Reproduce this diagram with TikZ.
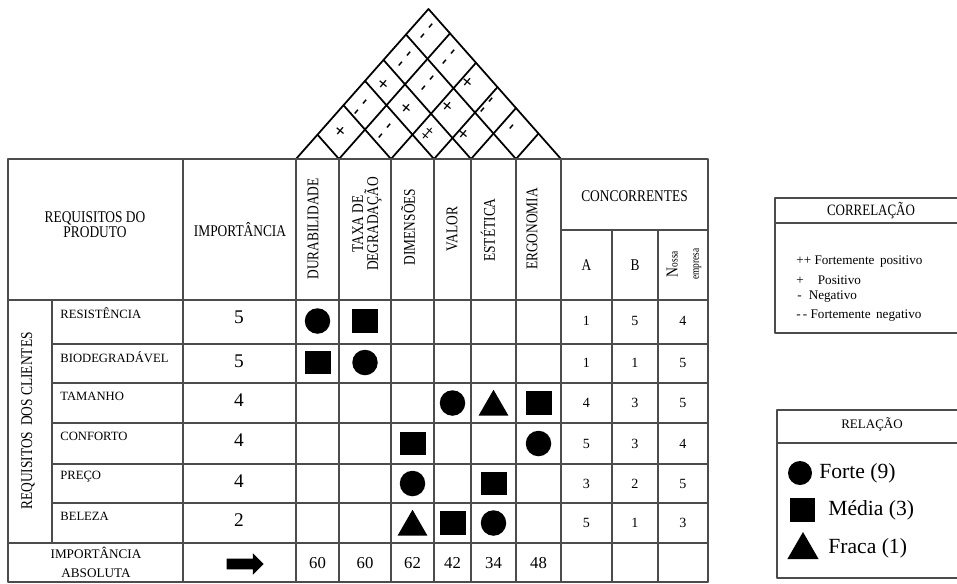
\documentclass[tikz,border=0pt]{standalone}
\usepackage{fontspec}
\setmainfont{Liberation Serif}
\newfontfamily\condfont{Liberation Serif}[FakeStretch=0.82]
\usetikzlibrary{shapes.geometric,shapes.arrows,calc}

\tikzset{
  grade/.style={draw=black!70, line width=0.75pt},
  telhado/.style={line width=1pt, line cap=round},
  forte/.style={circle, fill, inner sep=0pt, minimum size=0.51cm},
  media/.style={rectangle, fill, inner sep=0pt, minimum width=0.52cm, minimum height=0.47cm},
  fraca/.style={regular polygon, regular polygon sides=3, fill, inner sep=0pt, minimum size=0.69cm, yshift=-0.08cm},
  cab/.style={font=\condfont\fontsize{9.3}{8.6}\selectfont, align=center, inner sep=0pt},
  req/.style={font=\fontsize{7.2}{9}\selectfont, anchor=west, inner sep=0pt},
  imp/.style={font=\fontsize{11}{13}\selectfont, inner sep=0pt},
  num/.style={font=\fontsize{8}{10}\selectfont, inner sep=0pt},
  tot/.style={font=\fontsize{9.5}{11}\selectfont, inner sep=0pt},
  corr/.style={font=\bfseries\fontsize{11}{12}\selectfont, inner sep=0pt, rotate=50},
  leg/.style={font=\fontsize{7.5}{9}\selectfont, anchor=west, inner sep=0pt},
  legrel/.style={font=\fontsize{12.3}{14}\selectfont, anchor=west, inner sep=0pt}
}
\newcommand{\mm}{-\hspace{3.5pt}-}
\newcommand{\pp}{{\fontsize{8.5}{9}\selectfont+\kern-1.2pt+}}

\begin{document}
\begin{tikzpicture}[x=0.02cm, y=-0.02cm, line join=round]
\useasboundingbox (0,0) rectangle (957,583);
% centros das colunas e das linhas
\foreach \x\t in {317.5/c1,365/c2,412.5/c3,452.5/c4,493.5/c5,538.5/c6,586.5/ca,635/cb,683/cc}
  \coordinate (\t) at (\x,0);
\foreach \y\t in {321/r1,362.5/r2,403/r3,443.5/r4,483.5/r5,523/r6}
  \coordinate (\t) at (0,\y);

% telhado
\foreach \p in {296,339,391,434,471,516,561}{
  \draw[telhado] (\p,159) -- ({(\p+561)/2},{159-1.132*(561-\p)/2});
  \draw[telhado] (\p,159) -- ({(296+\p)/2},{159-1.132*(\p-296)/2});
}
\foreach \x/\y/\s [count=\n] in {341/132/+, 386/132/\mm, 428/134/\pp, 464/135/+, 513/128/-,
    362/108/\mm, 407/109/+, 448/107/+, 488/106/\mm, 384/85/+, 429/84/\mm, 468/83/+,
    406/60/\mm, 450/58/\mm, 428/32/\mm}
  \node[corr] (t\n) at (\x,\y) {\s};

% grade da matriz
\draw[grade] (8,159) rectangle (708,582);
\foreach \y in {300,543} \draw[grade] (8,\y) -- (708,\y);
\foreach \y in {344,383,423,464,503} \draw[grade] (52,\y) -- (708,\y);
\draw[grade] (561,230) -- (708,230);
\draw[grade] (52,300) -- (52,543);
\foreach \x in {183,296,339,391,434,471,516,561} \draw[grade] (\x,159) -- (\x,582);
\foreach \x in {612,658} \draw[grade] (\x,230) -- (\x,582);

% cabecalho
\node[cab] (reqprod) at (95,225) {REQUISITOS DO\\PRODUTO};
\node[cab] (impcab) at (240,230) {IMPORTÂNCIA};
\node[cab, rotate=90] (h1) at (313,229) {DURABILIDADE};
\node[cab, rotate=90] (h2) at (367,224) {TAXA DE\\DEGRADAÇÃO};
\node[cab, rotate=90] (h3) at (408,227) {DIMENSÕES};
\node[cab, rotate=90] (h4) at (452,229) {VALOR};
\node[cab, rotate=90] (h5) at (488,230) {ESTÉTICA};
\node[cab, rotate=90] (h6) at (532,229) {ERGONOMIA};
\node[cab] (conc) at (634.5,196) {CONCORRENTES};
\node[cab] (concA) at (ca |- 0,265) {A};
\node[cab] (concB) at (cb |- 0,265) {B};
\node[font=\condfont\fontsize{6.5}{12}\selectfont, align=center, inner sep=0pt, rotate=90] (concC) at (684,264)
  {{\fontsize{9.5}{12}\selectfont N}ossa\\empresa};
\node[cab, rotate=90] (reqcli) at (28,421) {REQUISITOS\, DOS CLIENTES};

% requisitos dos clientes
\foreach \t/\lab/\imp/\a/\b/\c [count=\k] in {300/RESISTÊNCIA/5/1/5/4, 344/BIODEGRADÁVEL/5/1/1/5,
    383/TAMANHO/4/4/3/5, 423/CONFORTO/4/5/3/4, 464/PREÇO/4/3/2/5, 503/BELEZA/2/5/1/3}{
  \node[req] (l\k) at (60,\t+13) {\lab};
  \node[imp] (i\k) at (239,\t+17) {\imp};
  \node[num] (a\k) at (ca |- r\k) {\a};
  \node[num] (b\k) at (cb |- r\k) {\b};
  \node[num] (n\k) at (cc |- r\k) {\c};
}

% relacoes
\foreach \i/\j/\s in {1/1/forte, 1/2/media, 2/1/media, 2/2/forte, 3/4/forte, 3/5/fraca, 3/6/media,
    4/3/media, 4/6/forte, 5/3/forte, 5/5/media, 6/3/fraca, 6/4/media, 6/5/forte}
  \node[\s] (m\i\j) at (c\j |- r\i) {};

% importancia absoluta
\node[font=\fontsize{7.5}{10.8}\selectfont, align=center, inner sep=0pt] (impabs) at (96,562) {IMPORTÂNCIA\\ABSOLUTA};
\node[single arrow, fill, inner xsep=0pt, inner ysep=0.1cm, minimum height=0.74cm,
  single arrow head extend=0.11cm, single arrow head indent=0pt] (seta) at (242.5,564) {};
\foreach \v [count=\j] in {60,60,62,42,34,48}
  \node[tot] (v\j) at (c\j |- 0,563) {\v};

% legenda correlacao
\draw[grade] (775,198) rectangle (975,333);
\draw[grade] (775,223) -- (975,223);
\node[cab, font=\condfont\fontsize{9}{10}\selectfont] (corrtit) at (871,211) {CORRELAÇÃO};
\node[leg] (c1l) at (796,262) {++ Fortemente\, positivo};
\node[leg] (c2l) at (796,280) {+\hspace{8pt}Positivo};
\node[leg] (c3l) at (797,297) {-\hspace{4pt}Negativo};
\node[leg] (c4l) at (796,316) {-\,- Fortemente\, negativo};

% legenda relacao
\draw[grade] (777,410) rectangle (975,578);
\draw[grade] (777,443) -- (975,443);
\node[font=\fontsize{7.4}{9}\selectfont, inner sep=0pt] (reltit) at (872,424) {RELAÇÃO};
\node[forte, minimum size=0.48cm] (lf) at (800,473) {};
\node[legrel] (lft) at (819,473) {Forte (9)};
\node[media, minimum width=0.5cm] (lm) at (802,510) {};
\node[legrel] (lmt) at (828,510) {Média (3)};
\node[fraca, minimum size=0.72cm] (lt) at (803,546) {};
\node[legrel] (ltt) at (828,548) {Fraca (1)};
\end{tikzpicture}
\end{document}
